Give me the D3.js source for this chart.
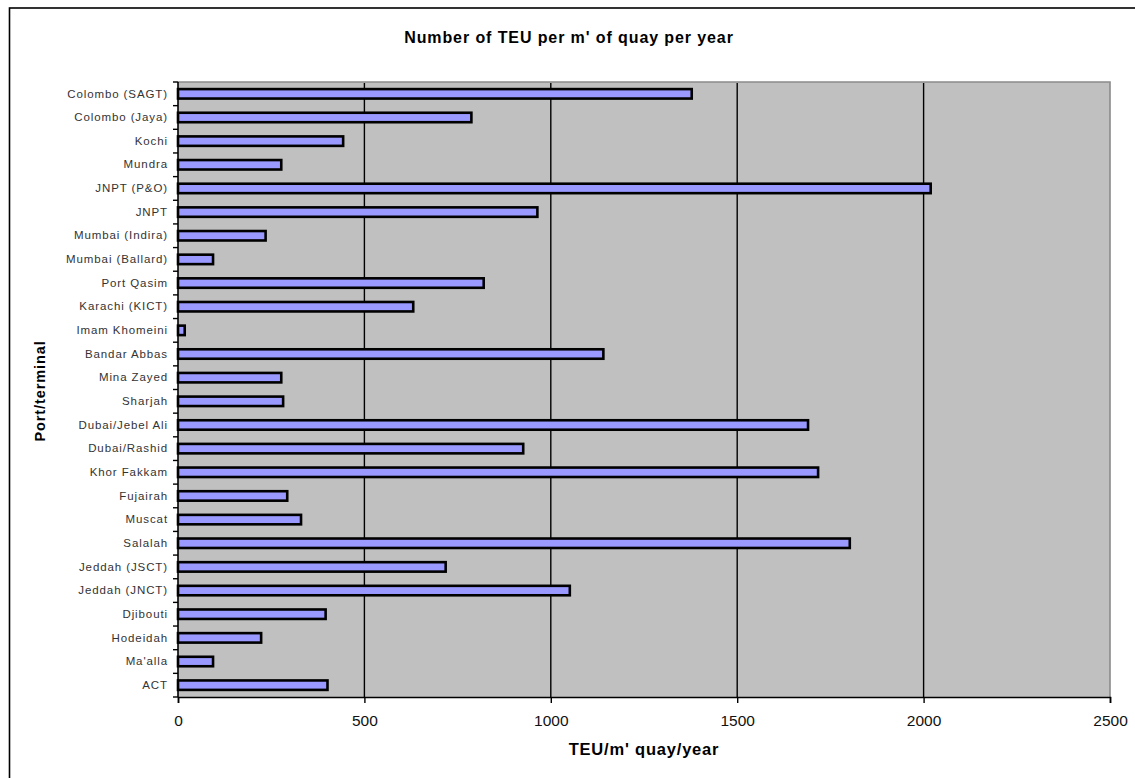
<!DOCTYPE html>
<html>
<head>
<meta charset="utf-8">
<script src="https://cdn.jsdelivr.net/npm/d3@7"></script>
<style>
  html, body { margin: 0; padding: 0; background: #fff; }
  svg { display: block; }
</style>
</head>
<body>
<svg id="chart" width="1135" height="778"></svg>
<script>
// Terminals, top to bottom
const terminals = [
  "Colombo (SAGT)", "Colombo (Jaya)", "Kochi", "Mundra", "JNPT (P&O)", "JNPT",
  "Mumbai (Indira)", "Mumbai (Ballard)", "Port Qasim", "Karachi (KICT)",
  "Imam Khomeini", "Bandar Abbas", "Mina Zayed", "Sharjah", "Dubai/Jebel Ali",
  "Dubai/Rashid", "Khor Fakkam", "Fujairah", "Muscat", "Salalah",
  "Jeddah (JSCT)", "Jeddah (JNCT)", "Djibouti", "Hodeidah", "Ma'alla", "ACT"
];

// TEU handled per metre of quay per year
const teuPerMetre = [
  1378, 787, 443, 277, 2019, 964,
  235, 94, 820, 631,
  18, 1141, 277, 282, 1690,
  926, 1717, 293, 330, 1802,
  718, 1051, 396, 223, 94, 401
];

const xTicks = [0, 500, 1000, 1500, 2000, 2500];

const titleText = "Number of TEU per m' of quay per year";
const xTitle = "TEU/m' quay/year";
const yTitle = "Port/terminal";

const FONT = "'Liberation Sans', Arial, sans-serif";

const svg = d3.select("#chart");
const plot = { left: 178, right: 1110, top: 82, bottom: 697 };

const x = d3.scaleLinear().domain([0, 2500]).range([plot.left, plot.right]);
const y = d3.scaleBand().domain(terminals).range([plot.top, plot.bottom])
  .paddingInner(0.6).paddingOuter(0.3);

// Outer chart frame
svg.append("rect")
  .attr("x", 9.5).attr("y", 8)
  .attr("width", 1140).attr("height", 790)
  .attr("fill", "#fff").attr("stroke", "#000").attr("stroke-width", 1.6);

// Plot background
svg.append("rect")
  .attr("x", plot.left).attr("y", plot.top)
  .attr("width", plot.right - plot.left).attr("height", plot.bottom - plot.top)
  .attr("fill", "#c0c0c0");

// Plot border (top and right in grey)
svg.append("path")
  .attr("d", `M${plot.left},${plot.top}H${plot.right}V${plot.bottom}`)
  .attr("fill", "none").attr("stroke", "#8a8a8a").attr("stroke-width", 1.6);

// Vertical gridlines
svg.append("g")
  .selectAll("line")
  .data(xTicks.filter(d => d > 0 && d < 2500))
  .join("line")
  .attr("x1", d => x(d)).attr("x2", d => x(d))
  .attr("y1", plot.top + 1).attr("y2", plot.bottom)
  .attr("stroke", "#000").attr("stroke-width", 1.4);

// Bars
svg.append("g")
  .selectAll("rect")
  .data(terminals.map((t, i) => ({ t, v: teuPerMetre[i] })))
  .join("rect")
  .attr("x", x(0))
  .attr("y", d => y(d.t))
  .attr("width", d => x(d.v) - x(0))
  .attr("height", y.bandwidth())
  .attr("fill", "#9999ff")
  .attr("stroke", "#000")
  .attr("stroke-width", 2.6);

// X axis
const xAxis = d3.axisBottom(x).tickValues(xTicks).tickSize(6).tickPadding(12).tickFormat(d3.format("d"));
const gx = svg.append("g").attr("transform", `translate(0,${plot.bottom})`).call(xAxis);
gx.select(".domain").attr("stroke", "#000").attr("stroke-width", 1.6);
gx.selectAll(".tick line").attr("stroke", "#000").attr("stroke-width", 1.4);
gx.selectAll(".tick text")
  .attr("fill", "#111")
  .style("font-family", FONT)
  .style("font-size", "15.5px");

// Y axis: labels centred on bars, ticks between categories
const yAxis = d3.axisLeft(y).tickSize(0).tickPadding(10);
const gy = svg.append("g").attr("transform", `translate(${plot.left},0)`).call(yAxis);
gy.select(".domain").remove();
gy.selectAll(".tick text")
  .attr("fill", "#333")
  .style("font-family", FONT)
  .style("font-size", "11.5px")
  .style("letter-spacing", "0.9px");

const step = y.step();
const boundaries = d3.range(terminals.length + 1).map(i => plot.top + i * step);
svg.append("g")
  .selectAll("line")
  .data(boundaries)
  .join("line")
  .attr("x1", plot.left - 5).attr("x2", plot.left)
  .attr("y1", d => d).attr("y2", d => d)
  .attr("stroke", "#000").attr("stroke-width", 1.4);
svg.append("line")
  .attr("x1", plot.left).attr("x2", plot.left)
  .attr("y1", plot.top).attr("y2", plot.bottom)
  .attr("stroke", "#000").attr("stroke-width", 1.6);

// Titles
svg.append("text")
  .attr("x", 569).attr("y", 43)
  .attr("text-anchor", "middle")
  .style("font-family", FONT)
  .style("font-weight", "bold").style("font-size", "16px")
  .style("letter-spacing", "0.9px")
  .text(titleText);

svg.append("text")
  .attr("x", (plot.left + plot.right) / 2).attr("y", 755)
  .attr("text-anchor", "middle")
  .style("font-family", FONT)
  .style("font-weight", "bold").style("font-size", "16.5px")
  .style("letter-spacing", "0.8px")
  .text(xTitle);

svg.append("text")
  .attr("transform", `translate(45,391) rotate(-90)`)
  .attr("text-anchor", "middle")
  .style("font-family", FONT)
  .style("font-weight", "bold").style("font-size", "14.5px")
  .style("letter-spacing", "0.9px")
  .text(yTitle);
</script>
</body>
</html>
